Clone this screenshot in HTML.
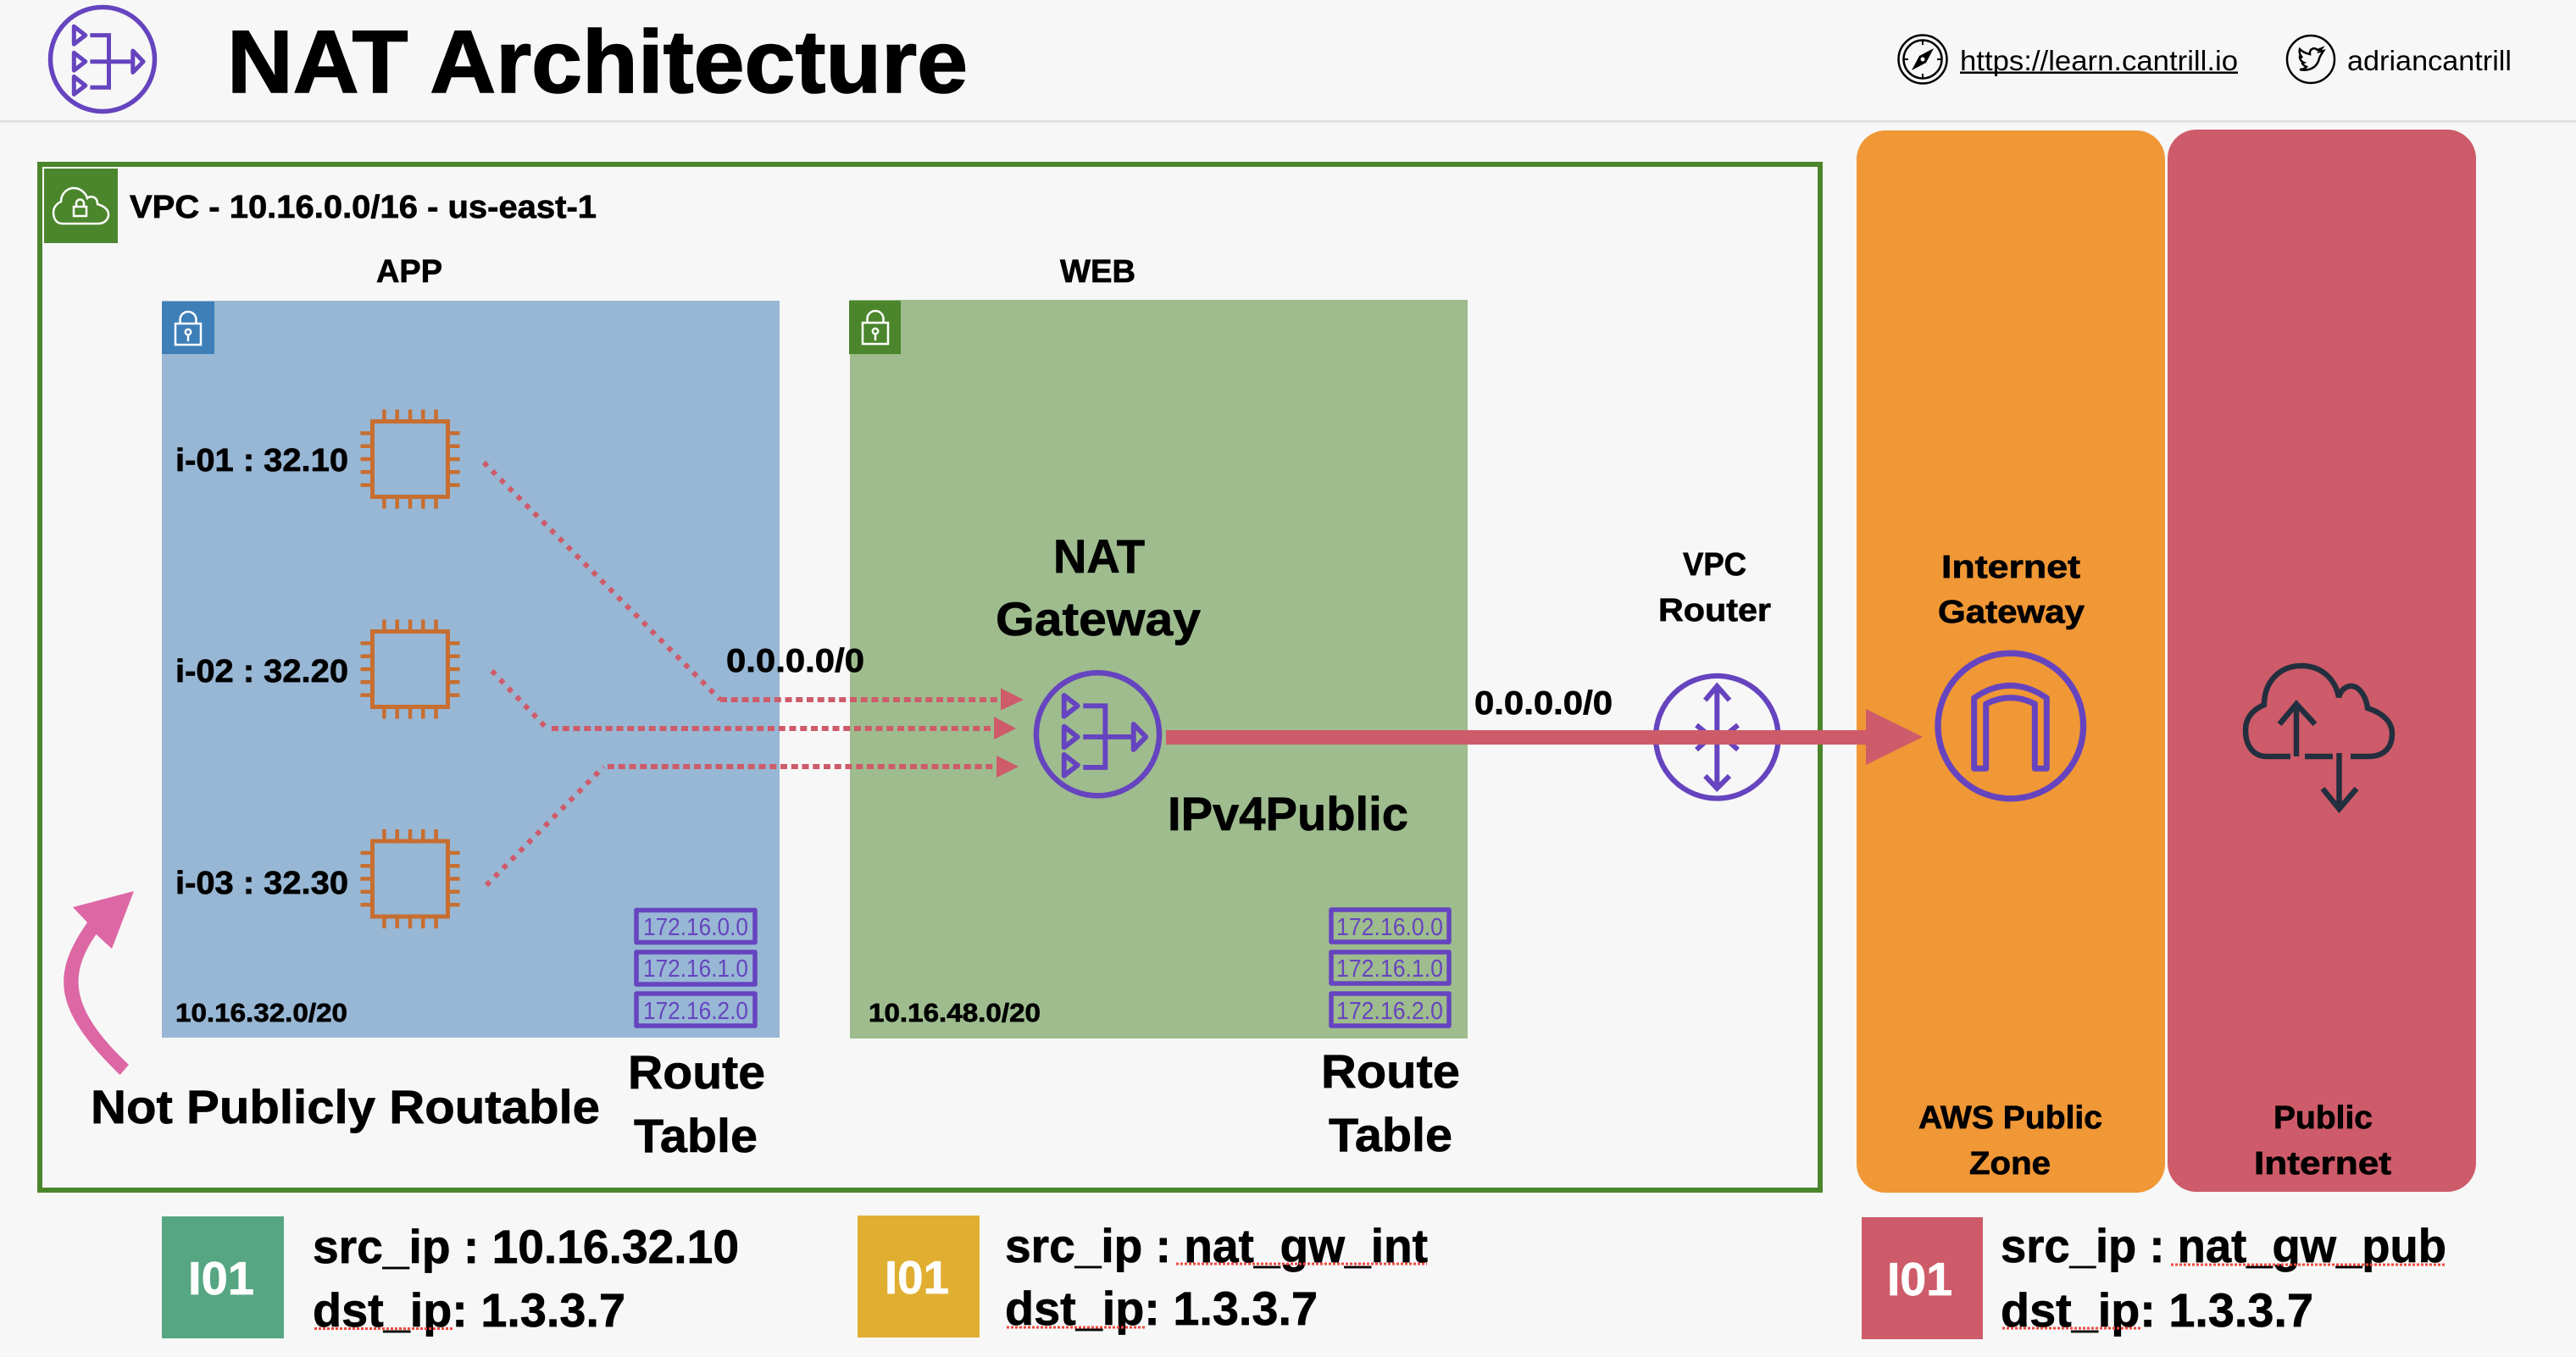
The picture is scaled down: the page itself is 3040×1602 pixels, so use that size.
<!DOCTYPE html>
<html><head><meta charset="utf-8"><title>NAT Architecture</title>
<style>
html,body{margin:0;padding:0;background:#f7f7f7;width:3040px;height:1602px;overflow:hidden}
svg{display:block}
text{font-family:"Liberation Sans",sans-serif;font-weight:700;fill:#000;stroke:#000;stroke-width:.7}
.n{font-weight:400;stroke:none}
.rt{font-weight:400;fill:#6644bf;font-size:29px;stroke:none}
.w{fill:#fff;stroke:#fff}
.sq{stroke:#f0483e;stroke-width:3;stroke-dasharray:3 2;fill:none}
</style></head><body>
<svg width="3040" height="1602" viewBox="0 0 3040 1602" xmlns="http://www.w3.org/2000/svg">
<defs>
<g id="nat" fill="none" stroke="#6644bf" stroke-width="5" stroke-linejoin="round">
<circle cx="0" cy="0" r="61.5" stroke-width="5.5"/>
<path d="M-33.700,-38.800 L-20.200,-28.400 L-33.700,-17.900Z M-33.700,-7.700 L-20.200,2.700 L-33.700,13.100Z M-33.700,20.500 L-20.200,31 L-33.700,41.400Z"/>
<path d="M-14.600,-28.400 H7.500 V33.200 H-14.600 M-14.600,2.700 H35.800" stroke-linejoin="miter"/>
<path d="M35.800,-10 L48.100,2.700 L35.800,15.400Z"/>
</g>
<g id="chip">
<rect x="-44.500" y="-44.500" width="89" height="89" fill="none" stroke="#c76e30" stroke-width="5"/>
<path d="M-58.500,-30.600H-46M-58.500,-15.300H-46M-58.500,0H-46M-58.500,15.300H-46M-58.500,30.600H-46M46,-30.600H58.500M46,-15.300H58.500M46,0H58.500M46,15.300H58.500M46,30.600H58.500M-30.600,-58.500V-46M-15.300,-58.500V-46M0,-58.500V-46M15.300,-58.500V-46M30.600,-58.500V-46M-30.600,46V58.500M-15.300,46V58.500M0,46V58.500M15.300,46V58.500M30.600,46V58.500" stroke="#c76e30" stroke-width="4.500" fill="none"/>
</g>
<g id="lock" fill="none" stroke="#fff" stroke-width="2.500">
<rect x="-15" y="14" width="30" height="25" />
<path d="M-9.500,14 V9.500 A9.500,9.500 0 0 1 9.500,9.500 V14"/>
<circle cx="0" cy="24" r="3.200"/><path d="M0,27V35"/>
</g>
</defs>

<!-- header -->
<rect x="0" y="142" width="3040" height="2.500" fill="#dfdfdf"/>
<use href="#nat" transform="translate(121,70)"/>
<text x="268" y="109" font-size="105" textLength="874" lengthAdjust="spacingAndGlyphs" style="stroke-width:1.6">NAT Architecture</text>
<g fill="none" stroke="#000" stroke-width="2.500">
<circle cx="2269" cy="70" r="28.500"/><circle cx="2269" cy="70" r="22.500"/>
<path d="M2269,48V53M2269,87V92M2247,70H2252M2286,70H2291" stroke-width="2"/>
</g>
<path d="M2256,83 L2265,66 L2282,57 L2273,74Z" fill="#000"/><circle cx="2269" cy="70" r="2.500" fill="#f7f7f7"/>
<text class="n" x="2313" y="83" font-size="33" textLength="328" lengthAdjust="spacingAndGlyphs">https://learn.cantrill.io</text>
<rect x="2313" y="84.500" width="328" height="2.500" fill="#000"/>
<circle cx="2727" cy="70" r="28" fill="none" stroke="#000" stroke-width="2.500"/>
<path d="M2714,82 C2722,84 2734,82 2737,69 C2738,66 2740,63 2742,60 L2737,61 L2740,57 L2735,59 C2731,55 2725,58 2726,64 C2721,63 2717,61 2714,58 C2713,62 2714,65 2717,68 L2714,67 C2714,70 2716,73 2719,74 L2717,75 C2718,77 2720,78 2722,79 C2720,81 2717,82 2714,82Z" fill="none" stroke="#000" stroke-width="2.500"/>
<text class="n" x="2770" y="83" font-size="33" textLength="194" lengthAdjust="spacingAndGlyphs">adriancantrill</text>

<!-- zones -->
<rect x="2191" y="154" width="364" height="1254" rx="34" fill="#f09736"/>
<rect x="2558" y="153" width="364" height="1254" rx="34" fill="#ce5b69"/>

<!-- VPC -->
<rect x="47" y="194" width="2101" height="1211" fill="none" stroke="#4b862d" stroke-width="6"/>
<rect x="52" y="199" width="87" height="88" fill="#4b862d"/>
<path d="M74,264 C65,264 63,256 63,251 C63,245 67,240 72,238 C72,228 80,222 87,222 C94,222 101,227 103,234 C106,231 112,232 114,236 C115,238 115,240 115,241 C122,243 128,247 128,253 C128,260 122,264 116,264Z" fill="none" stroke="#fff" stroke-width="2.500"/>
<rect x="87" y="244" width="15" height="11" fill="none" stroke="#fff" stroke-width="2.500"/>
<path d="M90,244 V240 A4.500,4.500 0 0 1 99,240 V244" fill="none" stroke="#fff" stroke-width="2.500"/>
<text x="153" y="257" font-size="38" textLength="551" lengthAdjust="spacingAndGlyphs">VPC - 10.16.0.0/16 - us-east-1</text>
<text x="444" y="333" font-size="38" textLength="78" lengthAdjust="spacingAndGlyphs">APP</text>
<text x="1251" y="333" font-size="38" textLength="89" lengthAdjust="spacingAndGlyphs">WEB</text>

<!-- subnets -->
<rect x="191" y="355" width="729" height="870" fill="#97b7d4"/>
<rect x="1003" y="354" width="729" height="872" fill="#9ebc8e"/>
<rect x="191" y="356" width="62" height="62" fill="#3e7fb8"/>
<rect x="1002" y="355" width="61" height="63" fill="#4b862d"/>
<use href="#lock" transform="translate(222,368)"/>
<use href="#lock" transform="translate(1033,367)"/>

<!-- chips -->
<use href="#chip" transform="translate(484,542)"/>
<use href="#chip" transform="translate(484,790)"/>
<use href="#chip" transform="translate(484,1037.500)"/>
<text x="207" y="556" font-size="38" textLength="204" lengthAdjust="spacingAndGlyphs">i-01 : 32.10</text>
<text x="207" y="805" font-size="38" textLength="204" lengthAdjust="spacingAndGlyphs">i-02 : 32.20</text>
<text x="207" y="1055" font-size="38" textLength="204" lengthAdjust="spacingAndGlyphs">i-03 : 32.30</text>
<text x="207" y="1206" font-size="31" textLength="203" lengthAdjust="spacingAndGlyphs">10.16.32.0/20</text>
<text x="1025" y="1206" font-size="31" textLength="203" lengthAdjust="spacingAndGlyphs">10.16.48.0/20</text>

<!-- dotted routes -->
<g fill="none" stroke="#ce5b69" stroke-width="6">
<path d="M571,546 L850,826" stroke-dasharray="6 8"/>
<path d="M580.500,792 L645.500,860" stroke-dasharray="6 8"/>
<path d="M574,1045 L712.500,905" stroke-dasharray="6 8"/>
<path d="M850,826 H1181" stroke-dasharray="8 4.750"/>
<path d="M651,860 H1173" stroke-dasharray="8 4.750"/>
<path d="M717,905 H1176" stroke-dasharray="8 4.750"/>
</g>
<g fill="#ce5b69">
<path d="M1181,812.500 L1208,826 L1181,838.500Z"/>
<path d="M1173,846 L1199,860 L1173,873Z"/>
<path d="M1176,892 L1202,905 L1176,918Z"/>
</g>
<text x="857" y="793" font-size="39" textLength="163" lengthAdjust="spacingAndGlyphs">0.0.0.0/0</text>

<!-- NAT gateway -->
<use href="#nat" transform="translate(1295.500,866.800) scale(1.180)"/>
<text x="1243" y="676" font-size="56" textLength="108" lengthAdjust="spacingAndGlyphs">NAT</text>
<text x="1175" y="750" font-size="56" textLength="242" lengthAdjust="spacingAndGlyphs">Gateway</text>
<text x="1378" y="980" font-size="56" textLength="284" lengthAdjust="spacingAndGlyphs">IPv4Public</text>

<!-- router -->
<g fill="none" stroke="#6644bf" stroke-width="6">
<circle cx="2026.300" cy="870.200" r="72.300" stroke-width="6.300"/>
<path d="M2026.300,810V931"/>
<path d="M2012.300,826.700 L2026.300,810 L2041,826.700 M2012.300,916 L2026.300,930.700 L2041,916"/>
<path d="M2002,856 L2019,870 L2002,885 M2051,856 L2034,870 L2051,885"/>
</g>
<text x="1986" y="679" font-size="38" textLength="75" lengthAdjust="spacingAndGlyphs">VPC</text>
<text x="1957" y="733" font-size="38" textLength="133" lengthAdjust="spacingAndGlyphs">Router</text>
<text x="1740" y="843" font-size="39" textLength="163" lengthAdjust="spacingAndGlyphs">0.0.0.0/0</text>

<!-- IGW -->
<circle cx="2372.800" cy="857" r="85.800" fill="none" stroke="#6644bf" stroke-width="7.300"/>
<path d="M2329.700,907.300 V824 Q2372.500,794.600 2415.300,824 V907.300 H2401.300 V831 Q2372.500,816.400 2343.700,831 V907.300Z" fill="none" stroke="#6644bf" stroke-width="7" stroke-linejoin="round"/>
<text x="2291" y="682" font-size="38" textLength="164" lengthAdjust="spacingAndGlyphs">Internet</text>
<text x="2287" y="735" font-size="38" textLength="173" lengthAdjust="spacingAndGlyphs">Gateway</text>

<!-- main arrow -->
<rect x="1376" y="862" width="826" height="17" fill="#ce5b69"/>
<path d="M2202,837 L2269,870 L2202,903Z" fill="#ce5b69"/>

<!-- cloud -->
<g fill="none" stroke="#232f3e" stroke-width="6.500">
<path d="M2703,893 H2675 C2659,893 2650,880 2650,862 C2650,848 2658,838 2672,832 C2672,805 2690,786 2716,786 C2740,786 2756,802 2760,823 C2764,810 2776,806 2784,814 C2790,820 2793,828 2794,836 C2812,842 2823,852 2823,866 C2823,884 2812,893 2795,893 H2774"/>
<path d="M2720,893 H2753"/>
<path d="M2710,893 V832 M2690,855 L2710,831 L2732,855"/>
<path d="M2760.500,889 V954 M2741,931 L2760.500,955 L2781,931"/>
</g>
<text x="2264" y="1332" font-size="38" textLength="217" lengthAdjust="spacingAndGlyphs">AWS Public</text>
<text x="2324" y="1386" font-size="38" textLength="96" lengthAdjust="spacingAndGlyphs">Zone</text>
<text x="2683" y="1332" font-size="38" textLength="117" lengthAdjust="spacingAndGlyphs">Public</text>
<text x="2660" y="1386" font-size="38" textLength="162" lengthAdjust="spacingAndGlyphs">Internet</text>

<!-- route tables -->
<g fill="none" stroke="#6644bf" stroke-width="5.500" stroke-linejoin="round">
<rect x="751" y="1074.500" width="140" height="38"/>
<rect x="751" y="1124" width="140" height="38"/>
<rect x="751" y="1173" width="140" height="38"/>
<rect x="1571" y="1074" width="139" height="38"/>
<rect x="1571" y="1124" width="139" height="37"/>
<rect x="1571" y="1173" width="139" height="38"/>
</g>
<text class="rt" x="759" y="1104" textLength="124" lengthAdjust="spacingAndGlyphs">172.16.0.0</text>
<text class="rt" x="759" y="1153" textLength="124" lengthAdjust="spacingAndGlyphs">172.16.1.0</text>
<text class="rt" x="759" y="1203" textLength="124" lengthAdjust="spacingAndGlyphs">172.16.2.0</text>
<text class="rt" x="1577" y="1104" textLength="126" lengthAdjust="spacingAndGlyphs">172.16.0.0</text>
<text class="rt" x="1577" y="1153" textLength="126" lengthAdjust="spacingAndGlyphs">172.16.1.0</text>
<text class="rt" x="1577" y="1203" textLength="126" lengthAdjust="spacingAndGlyphs">172.16.2.0</text>

<text x="741" y="1285" font-size="56" textLength="162" lengthAdjust="spacingAndGlyphs">Route</text>
<text x="748" y="1360" font-size="56" textLength="146" lengthAdjust="spacingAndGlyphs">Table</text>
<text x="1559" y="1284" font-size="56" textLength="164" lengthAdjust="spacingAndGlyphs">Route</text>
<text x="1568" y="1359" font-size="56" textLength="146" lengthAdjust="spacingAndGlyphs">Table</text>

<!-- pink arrow and note -->
<path d="M103,1089 C61,1150 61,1190 141.500,1269 L152,1257 C81,1190 81,1150 113.500,1103 L132,1120 L158,1052 L86,1071Z" fill="#dd67a5"/>
<text x="107" y="1326" font-size="56" textLength="601" lengthAdjust="spacingAndGlyphs">Not Publicly Routable</text>

<!-- packets -->
<rect x="191" y="1436" width="144" height="144" fill="#56a683"/>
<text class="w" x="222" y="1528" font-size="55" textLength="78" lengthAdjust="spacingAndGlyphs">I01</text>
<text x="369" y="1491" font-size="56" textLength="503" lengthAdjust="spacingAndGlyphs">src_ip : 10.16.32.10</text>
<text x="369" y="1566" font-size="56" textLength="369" lengthAdjust="spacingAndGlyphs">dst_ip: 1.3.3.7</text>
<path class="sq" d="M371,1568.500H534"/>

<rect x="1012" y="1435" width="144" height="144" fill="#e0ae31"/>
<text class="w" x="1044" y="1527" font-size="55" textLength="76" lengthAdjust="spacingAndGlyphs">I01</text>
<text x="1186" y="1490" font-size="56" textLength="499" lengthAdjust="spacingAndGlyphs">src_ip : nat_gw_int</text>
<text x="1186" y="1564" font-size="56" textLength="369" lengthAdjust="spacingAndGlyphs">dst_ip: 1.3.3.7</text>
<path class="sq" d="M1388,1492H1684M1188,1567H1353"/>

<rect x="2197" y="1437" width="143" height="144" fill="#ce5b69"/>
<text class="w" x="2227" y="1529" font-size="55" textLength="77" lengthAdjust="spacingAndGlyphs">I01</text>
<text x="2361" y="1490" font-size="56" textLength="526" lengthAdjust="spacingAndGlyphs">src_ip : nat_gw_pub</text>
<text x="2361" y="1566" font-size="56" textLength="369" lengthAdjust="spacingAndGlyphs">dst_ip: 1.3.3.7</text>
<path class="sq" d="M2562,1493H2886M2363,1568H2528"/>
</svg>
</body></html>
